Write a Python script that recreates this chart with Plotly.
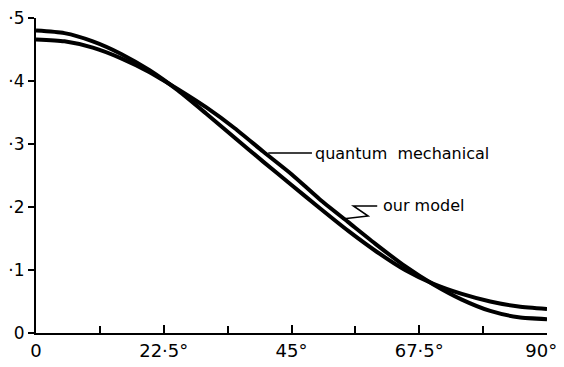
import plotly.graph_objects as go

# angle in degrees
angles = [0, 5, 10, 15, 20, 25, 30, 35, 40, 45, 50, 55, 60, 65, 70, 75, 80, 85, 90]
quantum_mechanical = [0.466, 0.463, 0.453, 0.436, 0.414, 0.387, 0.358, 0.325, 0.288, 0.252,
                      0.212, 0.176, 0.140, 0.106, 0.077, 0.053, 0.035, 0.025, 0.022]
our_model = [0.480, 0.476, 0.463, 0.443, 0.417, 0.385, 0.348, 0.310, 0.272, 0.235,
             0.198, 0.162, 0.129, 0.100, 0.078, 0.062, 0.050, 0.042, 0.038]

x_tickvals = [0, 22.5, 45, 67.5, 90]
x_ticktext = ["0", "22·5°", "45°", "67·5°", "90°\u00a0\u00a0"]
y_tickvals = [0, 0.1, 0.2, 0.3, 0.4, 0.5]
y_ticktext = ["0", "·1", "·2", "·3", "·4", "·5"]

FONT = "DejaVu Sans"

fig = go.Figure()
fig.add_trace(go.Scatter(x=angles, y=quantum_mechanical, mode="lines",
                         line=dict(color="black", width=4, shape="spline", smoothing=0.6),
                         name="quantum mechanical", showlegend=False))
fig.add_trace(go.Scatter(x=angles, y=our_model, mode="lines",
                         line=dict(color="black", width=4, shape="spline", smoothing=0.6),
                         name="our model", showlegend=False))

# pointer for "quantum mechanical"
fig.add_shape(type="line", xref="x", yref="y", x0=40.9, y0=0.2857, x1=48.6, y1=0.2857,
              line=dict(color="black", width=1.5))
fig.add_annotation(x=48.8, y=0.2857, xref="x", yref="y", text="quantum  mechanical",
                   showarrow=False, xanchor="left", yanchor="middle",
                   font=dict(family=FONT, size=16, color="black"))
# zig-zag pointer for "our model"
fig.add_shape(type="path", xref="x", yref="y",
              path="M 60.1,0.2016 L 55.9,0.2016 L 58.5,0.1857 L 53.9,0.181",
              line=dict(color="black", width=1.5))
fig.add_annotation(x=60.8, y=0.203, xref="x", yref="y", text="our model",
                   showarrow=False, xanchor="left", yanchor="middle",
                   font=dict(family=FONT, size=16, color="black"))

fig.update_xaxes(range=[0, 90], tickvals=x_tickvals, ticktext=x_ticktext,
                 ticks="inside", ticklen=8, tickwidth=2, tickcolor="black",
                 minor=dict(dtick=11.25, tick0=0, ticks="inside", ticklen=7,
                            tickwidth=2, tickcolor="black"),
                 showline=True, linecolor="black", linewidth=2, showgrid=False,
                 zeroline=False, automargin=False, ticklabeloverflow="allow",
                 tickfont=dict(family=FONT, size=18, color="black"))
fig.update_yaxes(range=[0, 0.5], tickvals=y_tickvals, ticktext=y_ticktext,
                 ticks="outside", ticklen=6, tickwidth=2, tickcolor="black",
                 showline=True, linecolor="black", linewidth=2, showgrid=False,
                 zeroline=False, automargin=False, ticklabeloverflow="allow",
                 tickfont=dict(family=FONT, size=17, color="black"))

fig.update_layout(width=564, height=367, paper_bgcolor="white", plot_bgcolor="white",
                  margin=dict(l=28, r=25, t=10, b=42), showlegend=False)

fig.write_html("out.html")
